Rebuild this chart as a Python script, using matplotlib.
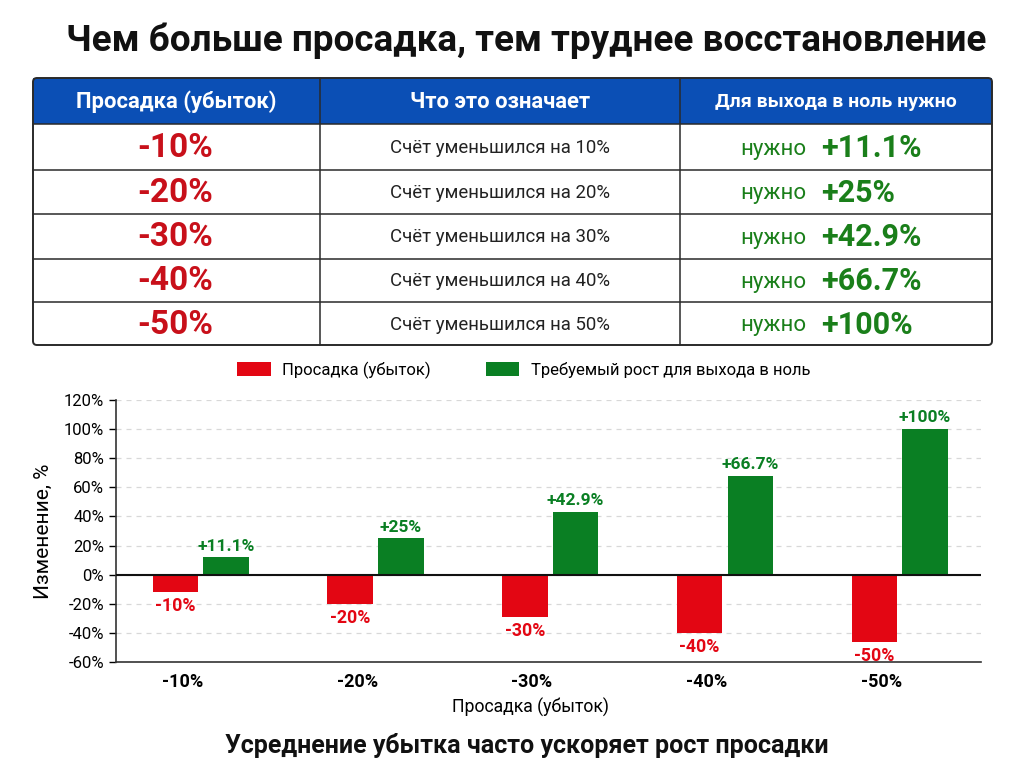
import numpy as np
import matplotlib
matplotlib.use("Agg")
import matplotlib.pyplot as plt
from matplotlib.patches import Rectangle, FancyBboxPatch, Patch

plt.rcParams['font.family'] = ['Roboto', 'DejaVu Sans']

# --- data ---
categories = ["-10%", "-20%", "-30%", "-40%", "-50%"]
drawdown = [-12, -20, -29, -40, -46]          # bar heights as drawn
recovery = [12, 25, 43, 68, 100]              # bar heights as drawn
drawdown_labels = ["-10%", "-20%", "-30%", "-40%", "-50%"]
recovery_labels = ["+11.1%", "+25%", "+42.9%", "+66.7%", "+100%"]
meaning = ["Счёт уменьшился на 10%", "Счёт уменьшился на 20%", "Счёт уменьшился на 30%",
           "Счёт уменьшился на 40%", "Счёт уменьшился на 50%"]
headers = ["Просадка (убыток)", "Что это означает", "Для выхода в ноль нужно"]
header_sizes = [15.8, 15.8, 14]
yticks = [-60, -40, -20, 0, 20, 40, 60, 80, 100, 120]

RED = "#e30613"
RED_TXT = "#c8101a"
GREEN = "#0a7f23"
GREEN_TXT = "#1a7f1a"
BLUE = "#0b4fb5"
EDGE = "#2a2a2a"

W, H = 1024, 773
fig = plt.figure(figsize=(W / 100, H / 100), dpi=100)

# overlay in pixel coordinates for title + table
ov = fig.add_axes([0, 0, 1, 1])
ov.set_xlim(0, W)
ov.set_ylim(H, 0)
ov.axis("off")

ov.text(526, 41, "Чем больше просадка, тем труднее восстановление", ha="center", va="center",
        fontsize=26.6, fontweight="bold", color="#111111")

cols = [33, 320, 680, 992]
rows = [78, 124, 170, 214, 259, 302, 345]

# header background
ov.add_patch(Rectangle((cols[0], rows[0]), cols[-1] - cols[0], rows[1] - rows[0],
                       facecolor=BLUE, edgecolor="none", zorder=1))
# outer rounded border
ov.add_patch(FancyBboxPatch((cols[0], rows[0]), cols[-1] - cols[0], rows[-1] - rows[0],
                            boxstyle="round,pad=0,rounding_size=4", facecolor="none",
                            edgecolor=EDGE, linewidth=1.4, zorder=3))
for r in rows[1:-1]:
    ov.plot([cols[0], cols[-1]], [r, r], color=EDGE, linewidth=1.1, zorder=2)
for c in cols[1:-1]:
    ov.plot([c, c], [rows[0], rows[-1]], color=EDGE, linewidth=1.1, zorder=2)

for j, h in enumerate(headers):
    ov.text((cols[j] + cols[j + 1]) / 2, (rows[0] + rows[1]) / 2 + 1, h, ha="center", va="center",
            fontsize=header_sizes[j], fontweight="bold", color="white", zorder=4)

for i in range(len(categories)):
    yc = (rows[i + 1] + rows[i + 2]) / 2 + 1
    ov.text(175, yc, drawdown_labels[i], ha="center", va="center",
            fontsize=24, fontweight="bold", color=RED_TXT, zorder=4)
    ov.text(500, yc, meaning[i], ha="center", va="center",
            fontsize=13.4, color="#222222", zorder=4)
    ov.text(806, yc + 1, "нужно", ha="right", va="center", fontsize=16, color=GREEN_TXT, zorder=4)
    ov.text(821, yc, recovery_labels[i], ha="left", va="center", fontsize=22,
            fontweight="bold", color=GREEN_TXT, zorder=4)

# --- bar chart ---
ax = fig.add_axes([116 / W, 1 - 662 / H, (981 - 116) / W, (662 - 400) / H])
x = np.arange(len(categories))
bw = 0.26
ax.bar(x - 0.15, drawdown, width=bw, color=RED, zorder=3, label="Просадка (убыток)")
ax.bar(x + 0.14, recovery, width=bw, color=GREEN, zorder=3, label="Требуемый рост для выхода в ноль")

for xi, v, lab in zip(x, drawdown, drawdown_labels):
    ax.text(xi - 0.15, v - 3.5, lab, ha="center", va="top", fontsize=12.8,
            fontweight="bold", color=RED, zorder=4)
for xi, v, lab in zip(x, recovery, recovery_labels):
    ax.text(xi + 0.14, v + 2.5, lab, ha="center", va="bottom", fontsize=12.5,
            fontweight="bold", color=GREEN, zorder=4)

ax.set_xlim(-0.49, 4.46)
ax.set_ylim(-60, 120)
ax.set_yticks(yticks)
ax.set_yticklabels([f"{t}%" for t in yticks], fontsize=12)
ax.set_xticks(x - 0.11)
ax.set_xticklabels(categories, fontsize=13, fontweight="bold")
ax.tick_params(axis="x", length=0, pad=8)
ax.tick_params(axis="y", length=5, width=1)
ax.axhline(0, color="#111111", linewidth=1.5, zorder=4)
ax.grid(axis="y", linestyle=(0, (4, 4)), color="#d8d8d8", linewidth=0.9, zorder=0)
for s in ["top", "right"]:
    ax.spines[s].set_visible(False)
for s in ["left", "bottom"]:
    ax.spines[s].set_color("#333333")
    ax.spines[s].set_linewidth(1.2)
ax.set_ylabel("Изменение, %", fontsize=15, labelpad=8)
ax.set_xlabel("Просадка (убыток)", fontsize=12.7)
ax.xaxis.set_label_coords((531 - 116) / 865, -0.135)

handles = [Patch(facecolor=RED), Patch(facecolor=GREEN)]
fig.legend(handles, ["Просадка (убыток)", "Требуемый рост для выхода в ноль"],
           loc="center", bbox_to_anchor=(524 / W, 1 - 370 / H), ncol=2, frameon=False,
           fontsize=12, handlelength=2.0, handleheight=0.9, columnspacing=3.3, handletextpad=0.7)

fig.text(527 / W, 1 - 745 / H, "Усреднение убытка часто ускоряет рост просадки", ha="center",
         va="center", fontsize=18, fontweight="bold", color="#111111")

fig.savefig("out.png", dpi=100)
